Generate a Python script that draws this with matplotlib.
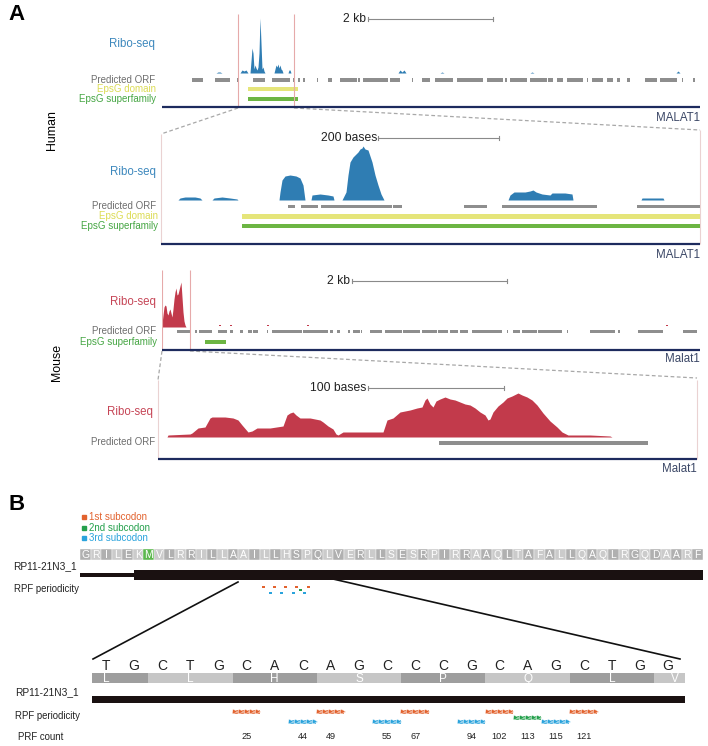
import numpy as np
import matplotlib
matplotlib.use('Agg')
import matplotlib.pyplot as plt
from matplotlib.patches import Rectangle

# ---------------- data ----------------
# Human overview (genomic units along MALAT1 locus)
human_ribo_x = [216, 218, 220, 222, 240, 242, 244, 246, 248, 250, 251, 252, 253, 254, 255, 256, 257, 258,
                259, 260, 261, 262, 263, 264, 265, 274, 276, 277, 278, 279, 280, 281, 282, 283, 288, 289,
                290, 291, 398, 400, 402, 404, 406, 408, 440, 442, 444, 530, 532, 534, 676, 678, 680]
human_ribo_h = [0, 1, 1, 0, 0, 3, 2, 3, 0, 0, 12, 25, 20, 4, 8, 5, 3, 6,
                20, 55, 30, 4, 6, 2, 0, 0, 8, 6, 9, 5, 8, 4, 3, 0, 0, 3,
                3, 0, 0, 3, 1, 3, 0, 0, 0, 1, 0, 0, 1, 0, 0, 2, 0]
human_orf = [(192, 203), (215, 230), (237, 238), (253, 265), (272, 290), (293, 295), (298, 300), (303, 305),
             (317, 318), (328, 332), (340, 357), (358, 360), (363, 388), (390, 400), (412, 413), (422, 430),
             (435, 453), (457, 483), (487, 503), (505, 507), (510, 527), (530, 547), (548, 553), (557, 563),
             (567, 583), (587, 588), (592, 603), (607, 613), (617, 620), (627, 630), (645, 657), (660, 677),
             (682, 683), (693, 695)]
human_epsg_domain = (248, 298)
human_epsg_superfamily = (248, 298)
human_zoom_region = (238, 294)

# Human zoom (200 bases window)
hz_ribo_x = [178, 180, 185, 195, 200, 202, 212, 214, 222, 230, 237, 238,
             279, 280, 282, 285, 290, 296, 300, 303, 305, 311, 312, 320, 328, 333, 334,
             342, 343, 346, 348, 350, 353, 356, 358, 360, 362, 363, 365, 368, 370, 372, 375, 378, 381, 383, 384,
             508, 510, 514, 525, 530, 533, 536, 542, 550, 552, 565, 572, 573, 641, 642, 663, 664]
hz_ribo_h = [0, 2, 3, 3, 2, 0, 0, 2, 3, 2, 1, 0,
             0, 8, 20, 24, 25, 24, 22, 15, 0, 0, 5, 6, 5, 4, 0,
             0, 2, 8, 25, 38, 43, 46, 48, 51, 52, 54, 51, 50, 44, 38, 25, 15, 6, 2, 0,
             0, 5, 8, 8, 9, 10, 8, 6, 5, 7, 7, 6, 0, 0, 2, 2, 0]
hz_orf = [(288, 295), (301, 318), (321, 392), (393, 402), (464, 487), (502, 597), (637, 700)]
hz_epsg_domain = (242, 700)
hz_epsg_superfamily = (242, 700)

# Mouse overview
mouse_ribo_x = [161.5, 162, 163, 164, 165, 166, 167, 168, 169, 170, 171, 172, 173, 174, 175, 176, 177, 178,
                179, 180, 181, 182, 183, 184, 185, 186]
mouse_ribo_h = [0, 3, 12, 20, 22, 21, 14, 12, 16, 18, 14, 10, 18, 28, 35, 39, 32, 33,
                37, 41, 45, 30, 15, 6, 2, 0]
mouse_ribo_dots = [220, 231, 268, 308, 667]
mouse_orf = [(177, 190), (195, 197), (199, 212), (218, 227), (230, 233), (240, 243), (248, 252), (253, 258),
             (267, 268), (272, 302), (303, 328), (330, 333), (337, 340), (348, 350), (353, 360), (361, 362),
             (370, 382), (385, 402), (403, 420), (422, 437), (438, 448), (450, 458), (460, 468), (472, 502),
             (507, 508), (513, 520), (522, 537), (538, 562), (567, 568), (590, 615), (618, 620), (638, 663),
             (683, 697)]
mouse_epsg_superfamily = (205, 226)
mouse_zoom_region = (162, 190)

# Mouse zoom (100 bases window)
mz_ribo_x = [167, 168, 190, 192, 198, 205, 210, 212, 225, 233, 238, 242, 248, 252, 257, 270, 283, 287, 290,
             293, 296, 300, 310, 320, 323, 328, 333, 336, 338, 343, 360, 383, 387, 393, 400, 405, 410, 417,
             422, 425, 427, 430, 433, 436, 440, 445, 450, 455, 460, 465, 470, 475, 480, 485, 488, 490, 493,
             498, 503, 507, 512, 518, 522, 527, 532, 537, 543, 550, 557, 562, 568, 590, 610, 612]
mz_ribo_h = [0, 2, 3, 4, 9, 10, 19, 20, 20, 19, 17, 12, 5, 6, 9, 9, 11, 22, 24,
             25, 22, 19, 19, 17, 15, 11, 8, 3, 2, 5, 5, 5, 17, 19, 25, 26, 27, 29,
             30, 37, 39, 33, 30, 36, 38, 40, 38, 37, 35, 33, 32, 29, 25, 22, 17, 18, 25,
             31, 35, 39, 41, 44, 42, 40, 37, 32, 24, 16, 10, 5, 2, 2, 1, 0]
mz_orf = [(439, 648)]

# Panel B
protein_seq = "GRILEKMVLRRILLAAILLHSPQLVERLLSESRPIRRAAQLTAFALLQAQLRGQDAARF"
start_aa = 'M'
utr_end_aa = 5.1
nucleotides = list("TGCTGCACAGCCCGCAGCTGG")
zoom_aa = list("LLHSPQLV")
rpf_pos = [5, 7, 8, 10, 11, 13, 14, 15, 16, 17]
rpf_frame = [1, 3, 1, 3, 1, 3, 1, 2, 3, 1]
rpf_count = [25, 44, 49, 55, 67, 94, 102, 113, 115, 121]
frame_names = ['1st subcodon', '2nd subcodon', '3rd subcodon']

# ---------------- style ----------------
W, H = 708, 746
plt.rcParams['font.family'] = ['Liberation Sans', 'DejaVu Sans']
BLUE = '#2f7db3'
BLUE_T = '#3d88bd'
RED = '#c23a4b'
RED_T = '#c64556'
GRAY = '#8e8e8e'
GRAY_T = '#6f6f6f'
YEL = '#e5e57a'
YEL_T = '#dcdc55'
GRN = '#6cb543'
GRN_T = '#46a644'
NAVY = '#1d2b5e'
NAVY_T = '#3b4766'
PINK = '#e6aaaa'
DASH = '#a8a8a8'
FCOL = {1: '#e2622e', 2: '#24a04c', 3: '#2aa3dc'}

fig = plt.figure(figsize=(W / 100, H / 100), dpi=100)
ov = fig.add_axes([0, 0, 1, 1])
ov.set_xlim(0, W)
ov.set_ylim(H, 0)
ov.axis('off')


def pax(x0, y0, x1, y1, xlim):
    ax = fig.add_axes([x0 / W, 1 - y1 / H, (x1 - x0) / W, (y1 - y0) / H])
    ax.set_xlim(*xlim)
    ax.set_ylim(y1, y0)
    ax.axis('off')
    return ax


def segs(ax, lst, y, h, color):
    ax.broken_barh([(s, e - s) for s, e in lst], (y - h / 2, h), facecolors=color, linewidth=0)


def scalebar(x0, x1, y, label, tx):
    ov.plot([x0, x1], [y, y], color='#8a8a8a', lw=0.8)
    ov.plot([x0, x0], [y - 2, y + 2], color='#8a8a8a', lw=0.8)
    ov.plot([x1, x1], [y - 2, y + 2], color='#8a8a8a', lw=0.8)
    ov.text(tx, y, label, ha='right', va='center', fontsize=8.7, color='#222222')


def lab(x, y, s, c, fs=7.0):
    ov.text(x, y, s, ha='right', va='center', fontsize=fs, color=c)


ov.text(8, 15, 'A', fontsize=16, fontweight='bold', va='center', ha='left')
ov.text(8, 505, 'B', fontsize=16, fontweight='bold', va='center', ha='left')
ov.text(52, 130, 'Human', rotation=90, fontsize=8.9, va='center', ha='center')
ov.text(57, 362, 'Mouse', rotation=90, fontsize=8.9, va='center', ha='center')

# ---- Human overview ----
ax = pax(162, 10, 700, 112, (162, 700))
ax.fill_between(human_ribo_x, 73, 73 - np.array(human_ribo_h), color=BLUE, lw=0)
segs(ax, human_orf, 80, 3.5, GRAY)
segs(ax, [human_epsg_domain], 89, 4.5, YEL)
segs(ax, [human_epsg_superfamily], 99, 4.5, GRN)
ax.vlines(human_zoom_region, 14, 107, color=PINK, lw=0.8)
ax.hlines(107, 162, 700, color=NAVY, lw=1.6)
lab(155, 44, 'Ribo-seq', BLUE_T, 8.3)
lab(155, 80, 'Predicted ORF', GRAY_T)
lab(156, 89, 'EpsG domain', YEL_T)
lab(156, 99, 'EpsG superfamily', GRN_T)
ov.text(700, 118, 'MALAT1', ha='right', va='center', fontsize=8.3, color=NAVY_T)
scalebar(368, 493, 19, '2 kb', 366)
ov.plot([human_zoom_region[0], 161], [108, 134], color=DASH, lw=0.9, ls=(0, (3, 2)))
ov.plot([human_zoom_region[1], 700], [108, 130], color=DASH, lw=0.9, ls=(0, (3, 2)))

# ---- Human zoom ----
ax = pax(161, 128, 700, 247, (161, 700))
ax.fill_between(hz_ribo_x, 200, 200 - np.array(hz_ribo_h), color=BLUE, lw=0)
segs(ax, hz_orf, 206.5, 3.8, GRAY)
segs(ax, [hz_epsg_domain], 216.5, 4.8, YEL)
segs(ax, [hz_epsg_superfamily], 226, 4.8, GRN)
ov.vlines(161, 134, 244, color='#ead2d2', lw=0.8)
ov.vlines(700, 130, 244, color='#ead2d2', lw=0.8)
ov.hlines(244, 161, 700, color=NAVY, lw=1.6)
lab(156, 172, 'Ribo-seq', BLUE_T, 8.3)
lab(156, 206, 'Predicted ORF', GRAY_T)
lab(158, 216, 'EpsG domain', YEL_T)
lab(158, 226, 'EpsG superfamily', GRN_T)
ov.text(700, 255, 'MALAT1', ha='right', va='center', fontsize=8.3, color=NAVY_T)
scalebar(378, 499, 138, '200 bases', 377)

# ---- Mouse overview ----
ax = pax(162, 265, 700, 353, (162, 700))
ax.fill_between(mouse_ribo_x, 327, 327 - np.array(mouse_ribo_h), color=RED, lw=0)
ax.broken_barh([(d - 1.2, 2.4) for d in mouse_ribo_dots], (324.5, 1.8), facecolors=RED, linewidth=0)
segs(ax, mouse_orf, 331.5, 3.2, GRAY)
segs(ax, [mouse_epsg_superfamily], 342, 4.5, GRN)
ax.vlines(mouse_zoom_region, 270, 350, color=PINK, lw=0.8)
ax.hlines(350, 162, 700, color=NAVY, lw=1.6)
lab(156, 302, 'Ribo-seq', RED_T, 8.3)
lab(156, 331, 'Predicted ORF', GRAY_T)
lab(157, 342, 'EpsG superfamily', GRN_T)
ov.text(700, 359, 'Malat1', ha='right', va='center', fontsize=8.3, color=NAVY_T)
scalebar(352, 507, 281, '2 kb', 350)
ov.plot([mouse_zoom_region[0], 158], [351, 380], color=DASH, lw=0.9, ls=(0, (3, 2)))
ov.plot([mouse_zoom_region[1], 697], [351, 378], color=DASH, lw=0.9, ls=(0, (3, 2)))

# ---- Mouse zoom ----
ax = pax(158, 376, 697, 461, (158, 697))
ax.fill_between(mz_ribo_x, 437, 437 - np.array(mz_ribo_h), color=RED, lw=0)
segs(ax, mz_orf, 443, 3.8, GRAY)
ov.vlines(158, 380, 459, color='#ead2d2', lw=0.8)
ov.vlines(697, 380, 459, color='#ead2d2', lw=0.8)
ov.hlines(459, 158, 697, color=NAVY, lw=1.6)
lab(153, 412, 'Ribo-seq', RED_T, 8.3)
lab(155, 442, 'Predicted ORF', GRAY_T)
ov.text(697, 469, 'Malat1', ha='right', va='center', fontsize=8.3, color=NAVY_T)
scalebar(368, 504, 388, '100 bases', 366)

# ---- Panel B legend ----
for k, (nm, yy) in enumerate(zip(frame_names, [517, 528, 538])):
    c = FCOL[k + 1]
    ov.plot([84], [yy], marker='s', ms=2.6, color=c, ls='none')
    ov.text(89, yy, nm, fontsize=7, color=c, va='center', ha='left')

# ---- Panel B upper: protein row + gene model ----
n_aa = len(protein_seq)
ax = pax(80, 545, 703, 597, (0, n_aa))
for i, a in enumerate(protein_seq):
    col = '#5cb84d' if (a == start_aa and i == protein_seq.index(start_aa)) else ('#b0b0b0' if i % 2 == 0 else '#cbcbcb')
    ax.add_patch(Rectangle((i, 548.5), 1, 11, facecolor=col, edgecolor='white', lw=0.3))
    ax.text(i + 0.5, 554.5, a, ha='center', va='center', fontsize=7.5, color='white')
ax.add_patch(Rectangle((0, 573), utr_end_aa, 4, facecolor='#1a1111', lw=0))
ax.add_patch(Rectangle((utr_end_aa, 570), n_aa - utr_end_aa, 9.5, facecolor='#1a1111', lw=0))
ov.text(13, 566, 'RP11-21N3_1', fontsize=7.3, va='center', ha='left', color='#222222')
ov.text(14, 589, 'RPF periodicity', fontsize=6.9, va='center', ha='left', color='#222222')

# upper periodicity (compressed nucleotide scale)
n_nt = len(nucleotides)
axp = pax(242.4, 582, 242.4 + n_nt * 3.75, 597, (0, n_nt))
frow_up = {1: 587, 2: 589.8, 3: 593}
for p, f in zip(rpf_pos, rpf_frame):
    axp.broken_barh([(p + 0.1, 0.8)], (frow_up[f] - 1.2, 2.4), facecolors=FCOL[f], linewidth=0)

# zoom connector lines
ov.plot([238, 93], [582, 659], color='#111111', lw=1.2)
ov.plot([333, 580], [579, 659], color='#111111', lw=0) if False else None
ov.plot([333, 680], [579, 659], color='#111111', lw=1.2)

# ---- Panel B lower ----
nt_end = 21.1
axl = pax(92, 655, 685, 746, (0, nt_end))
for i, nt in enumerate(nucleotides):
    axl.text(i + 0.5, 666, nt, ha='center', va='center', fontsize=10, color='#222222')
for k, a in enumerate(zoom_aa):
    s = max(-1 + 3 * k, 0)
    e = min(-1 + 3 * k + 3, nt_end)
    col = '#9e9e9e' if k % 2 == 0 else '#c6c6c6'
    axl.add_patch(Rectangle((s, 673), e - s, 10, facecolor=col, lw=0))
    lx = min(-1 + 3 * k + 1.5, nt_end - 0.35)
    axl.text(lx, 679, a, ha='center', va='center', fontsize=8.5, color='white')
axl.add_patch(Rectangle((0, 696), nt_end, 7.5, facecolor='#1a1111', lw=0))
frow = {1: 712.5, 2: 718, 3: 722.5}
for p, f, cnt in zip(rpf_pos, rpf_frame, rpf_count):
    xs = np.linspace(p + 0.08, p + 0.92, 5)
    axl.plot([p + 0.02, p + 0.98], [frow[f]] * 2, color=FCOL[f], lw=2.6, solid_capstyle='butt')
    axl.plot(xs, [frow[f]] * 5, ls='none', marker='>', ms=3.6, mfc=FCOL[f], mec='white', mew=0.35)
    axl.text(p + 0.5, 737, str(cnt), ha='center', va='center', fontsize=6.6, color='#222222')
ov.text(15, 692, 'RP11-21N3_1', fontsize=7.3, va='center', ha='left', color='#222222')
ov.text(15, 716, 'RPF periodicity', fontsize=6.9, va='center', ha='left', color='#222222')
ov.text(18, 737, 'PRF count', fontsize=6.9, va='center', ha='left', color='#222222')

fig.savefig('out.png', dpi=100)
